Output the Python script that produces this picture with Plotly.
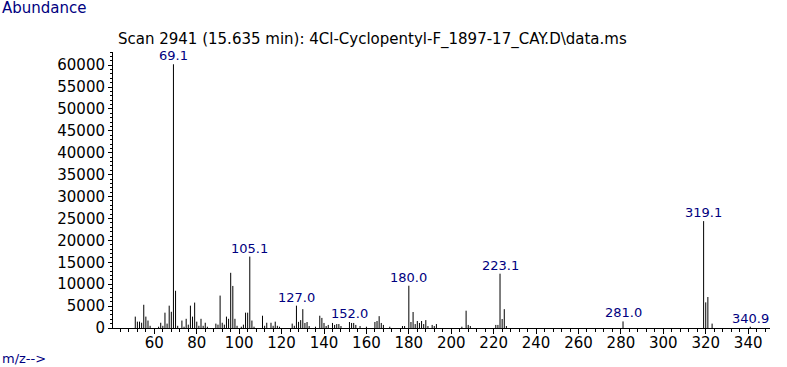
import plotly.graph_objects as go

# ---- data ----
mz = [51, 52, 53, 54, 55, 56, 57, 58, 62, 63, 64, 65, 66, 67, 68, 69, 70, 71, 73, 74,
      75, 76, 77, 78, 79, 80, 81, 82, 83, 84, 85, 89, 90, 91, 92, 93, 94, 95, 96, 97,
      98, 99, 101, 102, 103, 104, 105, 106, 107, 111, 112, 113, 115, 116, 117, 118, 119,
      125, 126, 127, 128, 129, 130, 131, 132, 133, 136, 138, 139, 140, 141, 142, 144, 145,
      146, 147, 148, 152, 153, 154, 155, 157, 160, 164, 165, 166, 167, 168, 171, 177, 178,
      180, 181, 182, 183, 184, 185, 186, 187, 188, 189, 191, 192, 193, 205, 207, 208, 209,
      221, 222, 223, 224, 225, 226, 281, 319, 320, 321, 323, 341]
abundance = [2600, 1450, 1450, 1200, 5300, 2600, 1700, 500, 300, 1200, 500, 3500, 1000, 5100,
             3700, 60200, 8500, 500, 1700, 300, 2100, 760, 5100, 2600, 5800, 1450, 500, 2100,
             500, 1200, 300, 1000, 760, 7400, 1200, 760, 2600, 2100, 12600, 9600, 2100, 500,
             300, 760, 3500, 3500, 16300, 1700, 300, 2800, 500, 1200, 1200, 500, 1450, 500,
             300, 1000, 500, 5100, 1400, 1800, 4300, 1150, 1370, 450, 300, 2800, 2300, 1150,
             450, 700, 1150, 700, 900, 900, 450, 1370, 1150, 1150, 700, 450, 300, 1370, 1600,
             2700, 1150, 700, 300, 450, 450, 9650, 1370, 3650, 900, 1600, 1150, 1600, 900,
             1800, 450, 700, 450, 900, 300, 3950, 700, 450, 700, 700, 12400, 2050, 4300, 450,
             1500, 24400, 5850, 7070, 1000, 300]

label_mz = [69, 105, 127, 152, 180, 223, 281, 319, 341]
label_text = ["69.1", "105.1", "127.0", "152.0", "180.0", "223.1", "281.0", "319.1", "340.9"]

x_tick_vals = list(range(60, 341, 20))
y_tick_vals = list(range(0, 60001, 5000))
y_tick_text = [str(v) for v in y_tick_vals]

title_text = "Scan 2941 (15.635 min): 4Cl-Cyclopentyl-F_1897-17_CAY.D\\data.ms"

NAVY = "#000080"
FONT = "DejaVu Sans"

W, H = 787, 367
L, R, T, B = 113, 17, 52, 39
PW, PH = W - L - R, H - T - B


def px_to_paper(px, py):
    return (px - L) / PW, (H - B - py) / PH


# stick lines built from the data
xs, ys = [], []
for m, a in zip(mz, abundance):
    xs += [m, m, None]
    ys += [0, a, None]

fig = go.Figure()
fig.add_trace(go.Scatter(x=xs, y=ys, mode="lines",
                         line=dict(color="black", width=1), hoverinfo="skip",
                         showlegend=False))

ab = dict(zip(mz, abundance))
for m, t in zip(label_mz, label_text):
    fig.add_annotation(x=m, y=ab[m], text=t, showarrow=False, xanchor="center",
                       yanchor="bottom", yshift=-1,
                       font=dict(family=FONT, size=13, color=NAVY))

ax, ay = px_to_paper(0, 8)
fig.add_annotation(x=ax, y=ay, xref="paper", yref="paper", text="Abundance", showarrow=False,
                   xanchor="left", yanchor="middle",
                   font=dict(family=FONT, size=15, color=NAVY))
mx, my = px_to_paper(0, 358)
fig.add_annotation(x=mx, y=my, xref="paper", yref="paper", text="m/z-->", showarrow=False,
                   xanchor="left", yanchor="middle",
                   font=dict(family=FONT, size=13, color=NAVY))
tx, ty = px_to_paper(116, 39.5)
fig.add_annotation(x=tx, y=ty, xref="paper", yref="paper", text=title_text, showarrow=False,
                   xanchor="left", yanchor="middle",
                   font=dict(family=FONT, size=15, color="black"))

fig.update_layout(
    width=W, height=H,
    margin=dict(l=L, r=R, t=T, b=B, autoexpand=False),
    paper_bgcolor="white", plot_bgcolor="white",
    font=dict(family=FONT, size=15, color="black"),
)
fig.update_xaxes(range=[40.5, 350.3], tickvals=x_tick_vals, ticks="outside", ticklen=5,
                 tickcolor="black", showline=True, linecolor="black", linewidth=1,
                 showgrid=False, zeroline=False, automargin=False, ticklabelstandoff=-4,
                 tickfont=dict(family=FONT, size=15),
                 minor=dict(dtick=4, tick0=0, ticks="outside", ticklen=3, tickcolor="black",
                            showgrid=False))
fig.update_yaxes(range=[0, 63000], tickvals=y_tick_vals, ticktext=y_tick_text,
                 ticks="outside", ticklen=4,
                 tickcolor="black", showline=True, linecolor="black", linewidth=1,
                 showgrid=False, zeroline=False, automargin=False,
                 tickfont=dict(family=FONT, size=15),
                 minor=dict(dtick=1000, tick0=0, ticks="outside", ticklen=2, tickcolor="black",
                            showgrid=False))

fig.write_html("out.html", config={"displayModeBar": False},
               post_script="document.body.style.margin='0px';")
